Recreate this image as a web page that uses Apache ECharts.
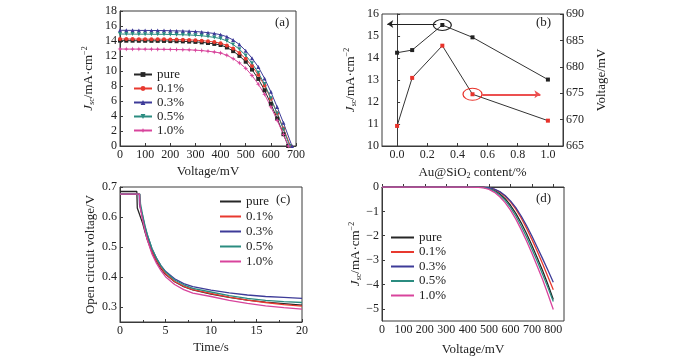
<!DOCTYPE html>
<html>
<head>
<meta charset="utf-8">
<script src="https://cdn.jsdelivr.net/npm/echarts@6/dist/echarts.min.js"></script>
<style>
  body { margin: 0; background: #fff; }
  #wrap { position: relative; width: 700px; height: 358px; }
  .pane { position: absolute; }
</style>
</head>
<body>
<div id="wrap">
  <div id="chartA" class="pane" style="left:0;top:0;width:340px;height:180px;"></div>
  <div id="chartB" class="pane" style="left:340px;top:0;width:360px;height:180px;"></div>
  <div id="chartC" class="pane" style="left:0;top:180px;width:340px;height:178px;"></div>
  <div id="chartD" class="pane" style="left:340px;top:180px;width:360px;height:178px;"></div>
</div>
<script>
var FONT = '"Liberation Serif", "DejaVu Serif", serif';
var names = ['pure', '0.1%', '0.3%', '0.5%', '1.0%'];
var colors = ['#262626', '#e8392f', '#3d3b98', '#2b8c80', '#d8449c'];

// (a) J-V curves, mV / mA·cm-2
var voltA = [0, 25, 50, 75, 100, 125, 150, 175, 200, 225, 250, 275, 300, 325, 350, 375, 400, 425, 450, 475, 500, 525, 550, 575, 600, 625, 650];
var jPure = [14.05, 14.04, 14.04, 14.03, 14.03, 14.02, 14.02, 14.01, 13.99, 13.97, 13.95, 13.92, 13.88, 13.82, 13.73, 13.61, 13.47, 13.14, 12.65, 12.01, 11.24, 10.19, 8.94, 7.43, 5.62, 3.67, 1.57];
var j01 = [14.27, 14.26, 14.26, 14.25, 14.25, 14.24, 14.24, 14.23, 14.21, 14.19, 14.17, 14.15, 14.11, 14.05, 13.97, 13.86, 13.71, 13.41, 12.99, 12.39, 11.63, 10.66, 9.49, 8.06, 6.29, 4.37, 2.34];
var j03 = [15.43, 15.42, 15.42, 15.41, 15.41, 15.40, 15.39, 15.39, 15.37, 15.35, 15.33, 15.30, 15.26, 15.20, 15.11, 15.00, 14.84, 14.57, 14.13, 13.53, 12.70, 11.71, 10.55, 9.01, 7.22, 5.20, 3.09];
var j05 = [14.93, 14.92, 14.92, 14.91, 14.91, 14.90, 14.89, 14.89, 14.87, 14.85, 14.83, 14.80, 14.76, 14.70, 14.60, 14.48, 14.33, 14.00, 13.53, 12.90, 12.08, 11.03, 9.78, 8.26, 6.38, 4.34, 2.21];
var j10 = [12.93, 12.92, 12.92, 12.92, 12.91, 12.91, 12.90, 12.89, 12.88, 12.86, 12.84, 12.82, 12.78, 12.72, 12.64, 12.53, 12.40, 12.10, 11.65, 11.08, 10.36, 9.40, 8.25, 6.89, 5.22, 3.43, 1.55];

// (b) Jsc and Voc against Au@SiO2 content
var contentB = [0, 0.1, 0.3, 0.5, 1.0];
var jscB = [14.24, 14.36, 15.50, 14.94, 13.02];
var vocB = [668.8, 677.9, 684.0, 674.8, 669.8];

// (c) open circuit voltage decay
var plateauC = [0.685, 0.676, 0.676, 0.676, 0.676];
var dropC = [1.85, 2.15, 2.1, 2.2, 2.15];
var kneeC = [0.63, 0.64, 0.64, 0.645, 0.635];
var timeC = [2.5, 2.75, 3, 3.5, 4, 4.5, 5, 6, 7, 8, 10, 12, 14, 16, 18, 20];
var ocvPure = [0.578, 0.55, 0.525, 0.483, 0.452, 0.428, 0.409, 0.384, 0.368, 0.357, 0.343, 0.332, 0.323, 0.316, 0.311, 0.306];
var ocv01 = [0.595, 0.562, 0.533, 0.488, 0.456, 0.431, 0.411, 0.385, 0.369, 0.358, 0.345, 0.333, 0.323, 0.315, 0.308, 0.303];
var ocv03 = [0.6, 0.567, 0.54, 0.495, 0.463, 0.438, 0.419, 0.394, 0.378, 0.368, 0.356, 0.347, 0.34, 0.335, 0.332, 0.329];
var ocv05 = [0.605, 0.57, 0.542, 0.496, 0.463, 0.437, 0.417, 0.39, 0.374, 0.362, 0.35, 0.338, 0.329, 0.322, 0.318, 0.315];
var ocv10 = [0.588, 0.553, 0.524, 0.478, 0.446, 0.421, 0.401, 0.375, 0.358, 0.346, 0.335, 0.322, 0.312, 0.304, 0.298, 0.293];

// (d) dark current
var voltD = [0, 100, 200, 300, 400, 450, 475, 500, 525, 550, 575, 600, 625, 650, 675, 700, 725, 750, 775, 800];
var dPure = [0, 0, 0, 0, 0, -0.004, -0.018, -0.055, -0.14, -0.28, -0.48, -0.75, -1.08, -1.47, -1.91, -2.39, -2.9, -3.43, -4.0, -4.62];
var d01 = [0, 0, 0, 0, 0, -0.003, -0.01, -0.04, -0.1, -0.21, -0.38, -0.61, -0.91, -1.27, -1.69, -2.15, -2.64, -3.15, -3.68, -4.22];
var d03 = [0, 0, 0, 0, 0, -0.002, -0.008, -0.03, -0.09, -0.19, -0.35, -0.57, -0.85, -1.19, -1.58, -2.01, -2.47, -2.94, -3.42, -3.91];
var d05 = [0, 0, 0, 0, 0, -0.006, -0.025, -0.07, -0.17, -0.33, -0.55, -0.84, -1.19, -1.6, -2.05, -2.54, -3.05, -3.58, -4.13, -4.7];
var d10 = [0, 0, 0, 0, 0, -0.012, -0.04, -0.1, -0.22, -0.4, -0.64, -0.95, -1.32, -1.75, -2.22, -2.72, -3.25, -3.8, -4.4, -5.03];

var jA = [jPure, j01, j03, j05, j10];
var ocvC = [ocvPure, ocv01, ocv03, ocv05, ocv10];
var dD = [dPure, d01, d03, d05, d10];

var marksA = ['rect', 'circle', 'triangle', 'triangle', 'path://M0,-6L1.6,-1.6L6,0L1.6,1.6L0,6L-1.6,1.6L-6,0L-1.6,-1.6Z'];

var jscName = '{i|J}{sub|sc}/mA·cm{sup|−2}';
var jscRich = {
  i: { fontStyle: 'italic', fontFamily: FONT, fontSize: 13, color: '#222' },
  sub: { fontFamily: FONT, fontSize: 8, color: '#222', padding: [7, 0, 0, 0] },
  sup: { fontFamily: FONT, fontSize: 8, color: '#222', padding: [0, 0, 7, 0] }
};

function axis(o) {
  var a = {
    nameLocation: 'middle',
    nameMoveOverlap: false,
    axisLine: { lineStyle: { color: '#3a3a3a', width: 1 } },
    axisTick: { inside: true, length: 3, lineStyle: { color: '#3a3a3a' } },
    splitLine: { show: false },
    axisLabel: Object.assign({ color: '#222', fontFamily: FONT, fontSize: 12, margin: 3 }, o.label || {}),
    nameTextStyle: Object.assign({ color: '#222', fontFamily: FONT, fontSize: 13 }, o.nameStyle || {})
  };
  delete o.label;
  delete o.nameStyle;
  return Object.assign(a, o);
}

function frame(left, top, width, height) {
  return {
    left: left, top: top, width: width, height: height,
    outerBoundsMode: 'none', containLabel: false,
    show: true, borderColor: '#3a3a3a', borderWidth: 1
  };
}

function tag(text, left, top) {
  return { type: 'text', left: left, top: top, style: { text: text, font: '13px ' + FONT, fill: '#222' } };
}

function legendAt(left, top, w, h, gap, icon) {
  return {
    orient: 'vertical', left: left, top: top, itemWidth: w, itemHeight: h, itemGap: gap,
    icon: icon, data: names,
    textStyle: { fontFamily: FONT, fontSize: 13, color: '#222' }
  };
}

var minus = function (v) { return v < 0 ? '−' + Math.abs(v) : String(v); };

// (a)
var chartA = echarts.init(document.getElementById('chartA'));
chartA.setOption({
  animation: false,
  grid: frame(120, 11, 176, 135),
  graphic: [tag('(a)', 275, 16)],
  legend: legendAt(128, 63, 18, 6, 1),
  xAxis: axis({ type: 'value', min: 0, max: 700, interval: 100, name: 'Voltage/mV', nameGap: 19 }),
  yAxis: axis({ type: 'value', min: 0, max: 18, interval: 2, name: jscName, nameGap: 24, nameStyle: { rich: jscRich } }),
  series: names.map(function (n, i) {
    return {
      name: n, type: 'line',
      data: voltA.map(function (v, k) { return [v, jA[i][k]]; }).concat([[vocB[i], 0]]),
      symbol: marksA[i], symbolSize: i === 4 ? 5 : 4, symbolRotate: i === 3 ? 180 : 0,
      lineStyle: { width: 1, color: colors[i] }, itemStyle: { color: colors[i] }
    };
  })
});

// (b)
var chartB = echarts.init(document.getElementById('chartB'));
chartB.setOption({
  animation: false,
  grid: frame(42, 14, 181, 132),
  graphic: [tag('(b)', 196, 16)],
  xAxis: axis({
    type: 'value', min: -0.1, max: 1.1, splitNumber: 6,
    name: 'Au@SiO{sub|2} content/%', nameGap: 19,
    nameStyle: { rich: { sub: { fontFamily: FONT, fontSize: 8, color: '#222', padding: [7, 0, 0, 0] } } },
    label: { showMinLabel: false, showMaxLabel: false, formatter: function (v) { return v.toFixed(1); } }
  }),
  yAxis: [
    axis({ type: 'value', min: 10, max: 16, interval: 1, name: jscName, nameGap: 24, nameStyle: { rich: jscRich } }),
    axis({ type: 'value', position: 'right', min: 665, max: 690, interval: 5, name: 'Voltage/mV', nameGap: 32, nameRotate: 90 })
  ],
  series: [
    {
      name: 'Jsc', type: 'line', yAxisIndex: 0,
      data: contentB.map(function (c, k) { return [c, jscB[k]]; }),
      symbol: 'rect', symbolSize: 4,
      lineStyle: { width: 1, color: '#333' }, itemStyle: { color: '#222' },
      markLine: {
        silent: true, symbol: ['none', 'arrow'], symbolSize: 6, label: { show: false },
        lineStyle: { color: '#222', width: 1, type: 'solid' },
        data: [[{ coord: [0.26, 15.55] }, { coord: [-0.065, 15.55] }]]
      },
      markPoint: {
        silent: true, symbol: 'circle', symbolSize: [18, 11], label: { show: false },
        itemStyle: { color: 'rgba(0,0,0,0)', borderColor: '#222', borderWidth: 1 },
        data: [{ coord: [0.3, 15.5] }]
      }
    },
    {
      name: 'Voc', type: 'line', yAxisIndex: 1,
      data: contentB.map(function (c, k) { return [c, vocB[k]]; }),
      symbol: 'rect', symbolSize: 4,
      lineStyle: { width: 1, color: '#333' }, itemStyle: { color: '#e8322a' },
      markLine: {
        silent: true, symbol: ['none', 'arrow'], symbolSize: 6, label: { show: false },
        lineStyle: { color: '#ec5050', width: 2, type: 'solid' },
        data: [[{ coord: [0.565, 674.8] }, { coord: [0.95, 674.8] }]]
      },
      markPoint: {
        silent: true, symbol: 'circle', symbolSize: [19, 12], label: { show: false },
        itemStyle: { color: 'rgba(0,0,0,0)', borderColor: '#e8322a', borderWidth: 1 },
        data: [{ coord: [0.5, 674.8] }]
      }
    }
  ]
});

// (c)
var chartC = echarts.init(document.getElementById('chartC'));
chartC.setOption({
  animation: false,
  grid: frame(120, 7, 182, 135),
  graphic: [tag('(c)', 276, 13)],
  legend: legendAt(215, 10, 21, 2, 2, 'rect'),
  xAxis: axis({ type: 'value', min: 0, max: 20, interval: 5, name: 'Time/s', nameGap: 19,
    minorTick: { show: true, splitNumber: 2, length: 2, lineStyle: { color: '#3a3a3a' } } }),
  yAxis: axis({ type: 'value', min: 0.25, max: 0.7, splitNumber: 5, name: 'Open circuit voltage/V', nameGap: 23,
    label: { showMinLabel: false, formatter: function (v) { return v.toFixed(1); } } }),
  series: names.map(function (n, i) {
    var pts = [[0, plateauC[i]], [dropC[i], plateauC[i]], [dropC[i] + 0.05, kneeC[i]]];
    return {
      name: n, type: 'line', symbol: 'none',
      data: pts.concat(timeC.map(function (t, k) { return [t, ocvC[i][k]]; })),
      lineStyle: { width: 1.3, color: colors[i] }, itemStyle: { color: colors[i] }
    };
  })
});

// (d)
var chartD = echarts.init(document.getElementById('chartD'));
chartD.setOption({
  animation: false,
  grid: frame(42, 7, 182, 134),
  graphic: [tag('(d)', 196, 12)],
  legend: legendAt(46, 46, 23, 2, 1.5, 'rect'),
  xAxis: axis({ type: 'value', min: 0, max: 850, interval: 100, name: 'Voltage/mV', nameGap: 22,
    label: { showMaxLabel: false } }),
  yAxis: axis({ type: 'value', min: -5.5, max: 0, splitNumber: 5, name: jscName, nameGap: 19,
    nameStyle: { rich: jscRich }, label: { showMinLabel: false, formatter: minus } }),
  series: names.map(function (n, i) {
    return {
      name: n, type: 'line', symbol: 'none',
      data: voltD.map(function (v, k) { return [v, dD[i][k]]; }),
      lineStyle: { width: 1.3, color: colors[i] }, itemStyle: { color: colors[i] }
    };
  })
});
</script>
</body>
</html>
